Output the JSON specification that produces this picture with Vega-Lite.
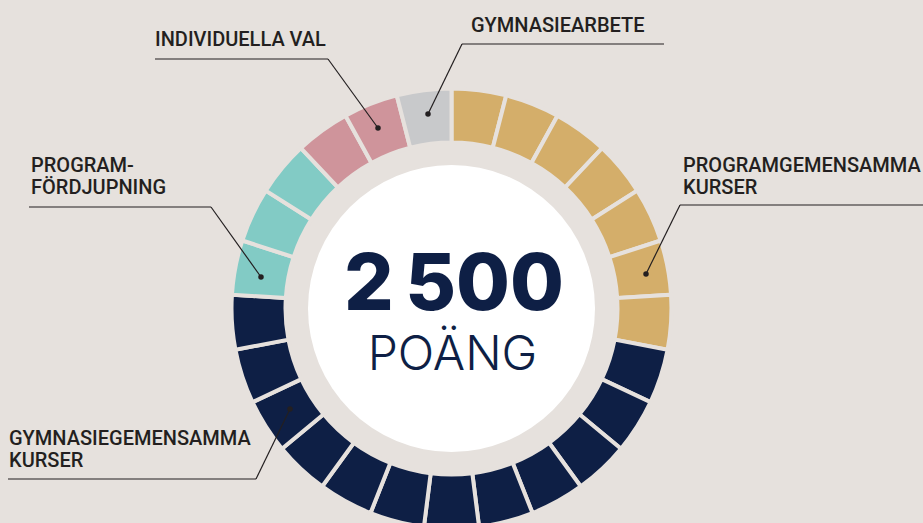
{
  "$schema": "https://vega.github.io/schema/vega-lite/v6.json",
  "width": 923,
  "height": 523,
  "autosize": {"type": "none"},
  "padding": 0,
  "background": "#e6e1dd",
  "view": {"stroke": null},
  "datasets": {
    "segments": [
      {"idx": 1, "category": "Programgemensamma kurser", "points": 100},
      {"idx": 2, "category": "Programgemensamma kurser", "points": 100},
      {"idx": 3, "category": "Programgemensamma kurser", "points": 100},
      {"idx": 4, "category": "Programgemensamma kurser", "points": 100},
      {"idx": 5, "category": "Programgemensamma kurser", "points": 100},
      {"idx": 6, "category": "Programgemensamma kurser", "points": 100},
      {"idx": 7, "category": "Programgemensamma kurser", "points": 100},
      {"idx": 8, "category": "Gymnasiegemensamma kurser", "points": 100},
      {"idx": 9, "category": "Gymnasiegemensamma kurser", "points": 100},
      {"idx": 10, "category": "Gymnasiegemensamma kurser", "points": 100},
      {"idx": 11, "category": "Gymnasiegemensamma kurser", "points": 100},
      {"idx": 12, "category": "Gymnasiegemensamma kurser", "points": 100},
      {"idx": 13, "category": "Gymnasiegemensamma kurser", "points": 100},
      {"idx": 14, "category": "Gymnasiegemensamma kurser", "points": 100},
      {"idx": 15, "category": "Gymnasiegemensamma kurser", "points": 100},
      {"idx": 16, "category": "Gymnasiegemensamma kurser", "points": 100},
      {"idx": 17, "category": "Gymnasiegemensamma kurser", "points": 100},
      {"idx": 18, "category": "Gymnasiegemensamma kurser", "points": 100},
      {"idx": 19, "category": "Gymnasiegemensamma kurser", "points": 100},
      {"idx": 20, "category": "Programfördjupning", "points": 100},
      {"idx": 21, "category": "Programfördjupning", "points": 100},
      {"idx": 22, "category": "Programfördjupning", "points": 100},
      {"idx": 23, "category": "Individuella val", "points": 100},
      {"idx": 24, "category": "Individuella val", "points": 100},
      {"idx": 25, "category": "Gymnasiearbete", "points": 100}
    ],
    "leaders": [
      {"x": 462, "y": 44, "x2": 664, "y2": 44},
      {"x": 462, "y": 44, "x2": 428, "y2": 114},
      {"x": 155, "y": 59, "x2": 328, "y2": 59},
      {"x": 328, "y": 59, "x2": 378, "y2": 128},
      {"x": 29, "y": 207, "x2": 211, "y2": 207},
      {"x": 211, "y": 207, "x2": 261, "y2": 277},
      {"x": 680, "y": 205, "x2": 923, "y2": 205},
      {"x": 680, "y": 205, "x2": 646, "y2": 274},
      {"x": 8, "y": 479, "x2": 256, "y2": 479},
      {"x": 256, "y": 479, "x2": 290, "y2": 409}
    ],
    "dots": [
      {"x": 428, "y": 114},
      {"x": 378, "y": 128},
      {"x": 261, "y": 277},
      {"x": 646, "y": 274},
      {"x": 290, "y": 409}
    ],
    "labels": [
      {"label": "GYMNASIEARBETE", "x": 471, "y": 32},
      {"label": "INDIVIDUELLA VAL", "x": 155, "y": 46},
      {"label": "PROGRAM-\nFÖRDJUPNING", "x": 31, "y": 172},
      {"label": "PROGRAMGEMENSAMMA\nKURSER", "x": 683, "y": 172},
      {"label": "GYMNASIEGEMENSAMMA\nKURSER", "x": 9, "y": 445}
    ],
    "total": [{"text": "2\u2009500", "x": 454, "y": 310}],
    "unit": [{"text": "POÄNG", "x": 452.5, "y": 370}]
  },
  "encoding": {
    "x": {"type": "quantitative", "scale": {"domain": [0, 923], "nice": false, "zero": false}, "axis": null},
    "y": {"type": "quantitative", "scale": {"domain": [0, 523], "nice": false, "zero": false, "reverse": true}, "axis": null}
  },
  "layer": [
    {
      "data": {"name": "segments"},
      "mark": {"type": "arc", "outerRadius": 220, "innerRadius": 166, "stroke": "#e6e1dd", "strokeWidth": 4},
      "encoding": {
        "x": {"datum": 451.5, "type": "quantitative"},
        "y": {"datum": 308.5, "type": "quantitative"},
        "theta": {"field": "points", "type": "quantitative", "stack": true},
        "order": {"field": "idx", "type": "quantitative"},
        "color": {
          "field": "category",
          "type": "nominal",
          "legend": null,
          "scale": {
            "domain": ["Programgemensamma kurser", "Gymnasiegemensamma kurser", "Programfördjupning", "Individuella val", "Gymnasiearbete"],
            "range": ["#d4ae6a", "#0e1f45", "#82cbc5", "#cf949b", "#c8c9cb"]
          }
        }
      }
    },
    {
      "data": {"values": [{"c": "center"}]},
      "mark": {"type": "point", "shape": "circle", "filled": true, "opacity": 1, "color": "#ffffff", "size": 82369},
      "encoding": {
        "x": {"datum": 451.5, "type": "quantitative"},
        "y": {"datum": 308.5, "type": "quantitative"}
      }
    },
    {
      "data": {"name": "leaders"},
      "mark": {"type": "rule", "color": "#231f20", "strokeWidth": 1.2},
      "encoding": {
        "x": {"field": "x", "type": "quantitative"},
        "y": {"field": "y", "type": "quantitative"},
        "x2": {"field": "x2"},
        "y2": {"field": "y2"}
      }
    },
    {
      "data": {"name": "dots"},
      "mark": {"type": "point", "shape": "circle", "filled": true, "opacity": 1, "color": "#231f20", "size": 30},
      "encoding": {
        "x": {"field": "x", "type": "quantitative"},
        "y": {"field": "y", "type": "quantitative"}
      }
    },
    {
      "data": {"name": "labels"},
      "mark": {"type": "text", "align": "left", "baseline": "alphabetic", "font": "Roboto", "fontWeight": 500, "fontSize": 20, "lineHeight": 22, "lineBreak": "\n", "color": "#231f20"},
      "encoding": {
        "x": {"field": "x", "type": "quantitative"},
        "y": {"field": "y", "type": "quantitative"},
        "text": {"field": "label"}
      }
    },
    {
      "data": {"name": "total"},
      "mark": {"type": "text", "align": "center", "baseline": "alphabetic", "font": "Inter", "fontWeight": 800, "fontSize": 78, "color": "#0e1f45"},
      "encoding": {
        "x": {"field": "x", "type": "quantitative"},
        "y": {"field": "y", "type": "quantitative"},
        "text": {"field": "text"}
      }
    },
    {
      "data": {"name": "unit"},
      "mark": {"type": "text", "align": "center", "baseline": "alphabetic", "font": "Inter", "fontWeight": 300, "fontSize": 48, "color": "#0e1f45"},
      "encoding": {
        "x": {"field": "x", "type": "quantitative"},
        "y": {"field": "y", "type": "quantitative"},
        "text": {"field": "text"}
      }
    }
  ]
}
